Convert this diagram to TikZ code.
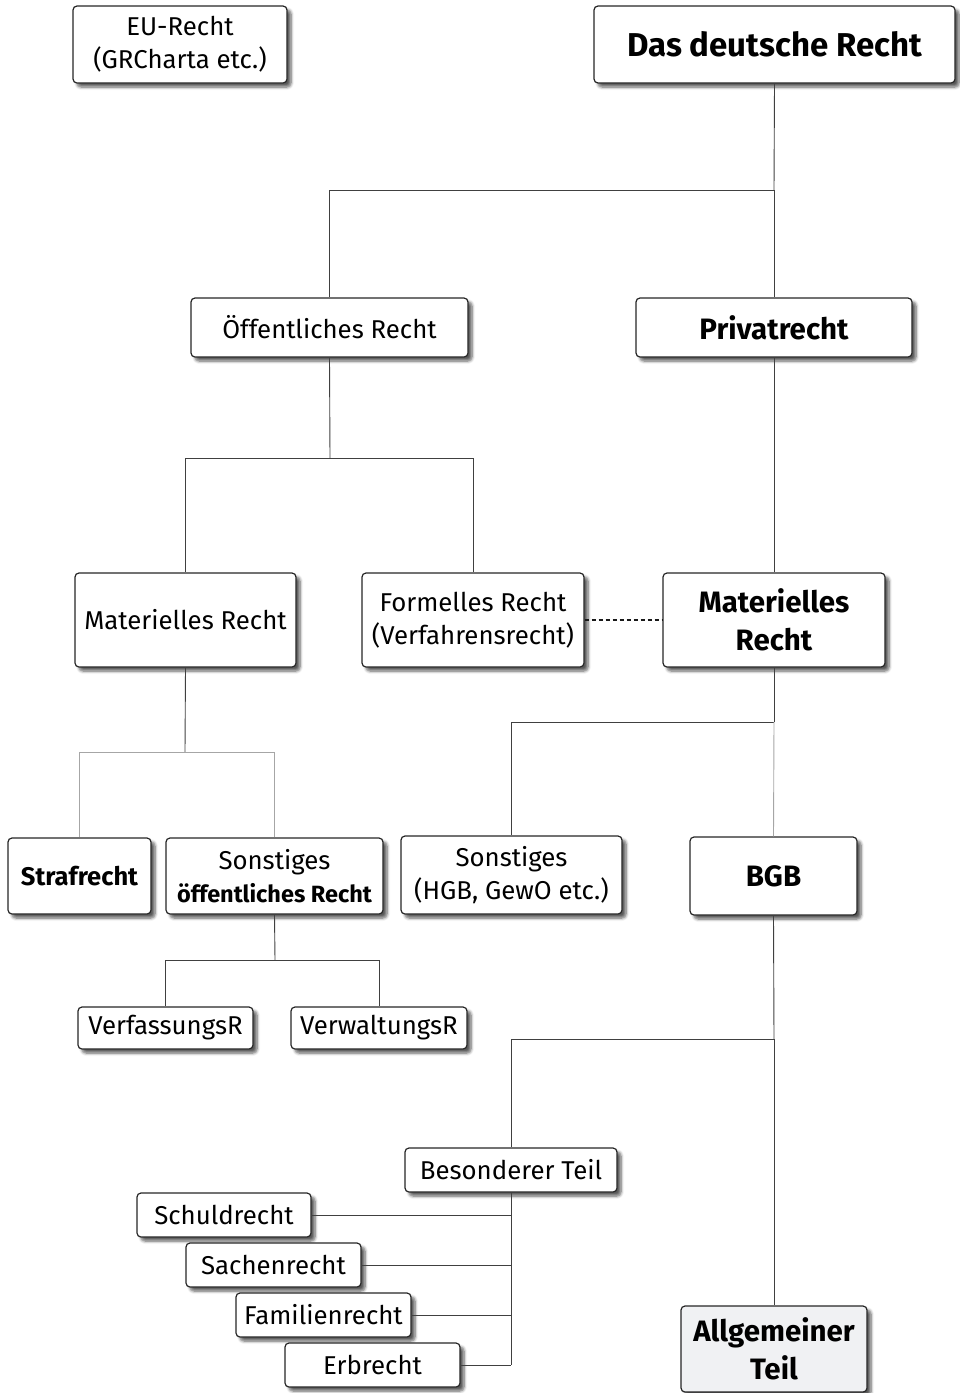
\documentclass[tikz,border=0pt]{standalone}
\usepackage{fontspec}
\setmainfont{Fira Sans}
\usetikzlibrary{shadows.blur}
\definecolor{atfill}{HTML}{F0F1F3}
\tikzset{
  box/.style={draw=black!85, line width=1.2pt, rounded corners=4pt, fill=white,
    align=center, inner sep=0pt,
    blur shadow={shadow xshift=4pt, shadow yshift=-4pt, shadow blur steps=6, shadow opacity=65, shadow blur radius=3pt},
    font=\fontsize{25.8}{33}\selectfont},
  bbox/.style={box, font=\fontsize{29.5}{38}\selectfont\bfseries},
  sbox/.style={box, font=\fontsize{25.5}{33}\selectfont\bfseries},
  conn/.style={draw=black!75, line width=0.9pt},
  lconn/.style={draw=black!35, line width=0.9pt},
}
\begin{document}
\begin{tikzpicture}[x=1pt,y=-1pt]
\useasboundingbox (0,0) rectangle (960,1393);
% nodes
\node[box, minimum width=214, minimum height=77] (eu) at (180,44.5) {EU-Recht\\(GRCharta etc.)};
\node[bbox, minimum width=361, minimum height=77, font=\fontsize{33}{38}\selectfont\bfseries] (dd) at (774.5,44.5) {Das deutsche Recht};
\node[box, minimum width=277, minimum height=59] (oe) at (329.5,327.5) {Öffentliches Recht};
\node[bbox, minimum width=276, minimum height=59] (pr) at (774,327.5) {Privatrecht};
\node[box, minimum width=221, minimum height=94] (ml) at (185.5,620) {Materielles Recht};
\node[box, minimum width=222, minimum height=94] (fr) at (473,620) {Formelles Recht\\(Verfahrensrecht)};
\node[bbox, minimum width=222, minimum height=94] (mr) at (774,620) {Materielles\\Recht};
\node[sbox, minimum width=143, minimum height=76] (st) at (79.5,876) {Strafrecht};
\node[box, minimum width=217, minimum height=76] (so) at (274.5,876) {Sonstiges\\{\fontsize{23.5}{33}\selectfont\bfseries öffentliches Recht}};
\node[box, minimum width=221, minimum height=78] (sh) at (511.5,875) {Sonstiges\\(HGB, GewO etc.)};
\node[bbox, minimum width=167, minimum height=78] (bgb) at (773.5,876) {BGB};
\node[box, minimum width=175, minimum height=42] (vf) at (165.5,1028) {VerfassungsR};
\node[box, minimum width=176, minimum height=42] (vw) at (379,1028) {VerwaltungsR};
\node[box, minimum width=212, minimum height=44] (bt) at (511,1170) {Besonderer Teil};
\node[box, minimum width=174, minimum height=44] (sr) at (224,1215) {Schuldrecht};
\node[box, minimum width=175, minimum height=44] (sa) at (273.5,1265) {Sachenrecht};
\node[box, minimum width=175, minimum height=44] (fa) at (323.5,1315) {Familienrecht};
\node[box, minimum width=175, minimum height=44] (er) at (372.5,1365) {Erbrecht};
\node[bbox, fill=atfill, minimum width=186, minimum height=86] (at) at (774,1349) {Allgemeiner\\Teil};
% junctions
\coordinate (j1) at (774,190);
\coordinate (j2) at (330,458);
\coordinate (j3) at (185,752);
\coordinate (j4) at (774,722);
\coordinate (j5) at (275,960);
\coordinate (j6) at (774,1039);
\coordinate (j7) at (511,1365);
% connectors
\draw[conn] (dd.south) -- (j1);
\draw[conn] (j1) -| (oe.north);
\draw[conn] (j1) -- (pr.north);
\draw[conn] (oe.south) -- (j2);
\draw[conn] (j2) -| (ml.north);
\draw[conn] (j2) -| (fr.north);
\draw[conn] (pr.south) -- (mr.north);
\draw[conn, draw=black!90, line width=1.1pt, dash pattern=on 4pt off 3pt] (fr.east) -- (mr.west);
\draw[conn] (ml.south) -- (j3);
\draw[lconn] (j3) -| (st.north);
\draw[lconn] (j3) -| (so.north);
\draw[conn] (mr.south) -- (j4);
\draw[conn] (j4) -| (sh.north);
\draw[lconn] (j4) -- (bgb.north);
\draw[conn] (so.south) -- (j5);
\draw[conn] (j5) -| (vf.north);
\draw[conn] (j5) -| (vw.north);
\draw[conn] (bgb.south) -- (j6);
\draw[conn] (j6) -- (at.north);
\draw[conn] (j6) -| (bt.north);
\draw[conn] (bt.south) -- (j7);
\draw[conn] (sr.east) -- (sr.east -| j7);
\draw[conn] (sa.east) -- (sa.east -| j7);
\draw[conn] (fa.east) -- (fa.east -| j7);
\draw[conn] (er.east) -- (j7);
\end{tikzpicture}
\end{document}
